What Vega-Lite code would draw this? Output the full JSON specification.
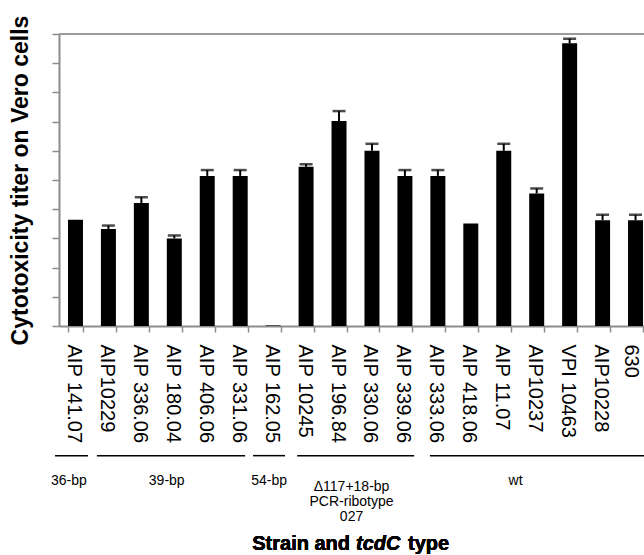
{
  "$schema": "https://vega.github.io/schema/vega-lite/v6.json",
  "width": 585,
  "height": 292,
  "autosize": {"type": "none"},
  "padding": {"left": 59, "top": 34, "right": 0, "bottom": 229},
  "background": "white",
  "config": {"view": {"stroke": null}, "font": "Liberation Sans"},
  "datasets": {
    "titers": [
      {"strain": "AIP 141.07", "titer": 3.64, "hi": 3.64},
      {"strain": "AIP10229", "titer": 3.32, "hi": 3.44},
      {"strain": "AIP 336.06", "titer": 4.21, "hi": 4.41},
      {"strain": "AIP 180.04", "titer": 3.0, "hi": 3.1},
      {"strain": "AIP 406.06", "titer": 5.14, "hi": 5.34},
      {"strain": "AIP 331.06", "titer": 5.14, "hi": 5.34},
      {"strain": "AIP 162.05", "titer": 0.02, "hi": 0.02},
      {"strain": "AIP 10245", "titer": 5.45, "hi": 5.54},
      {"strain": "AIP 196.84", "titer": 7.02, "hi": 7.36},
      {"strain": "AIP 330.06", "titer": 6.0, "hi": 6.24},
      {"strain": "AIP 339.06", "titer": 5.14, "hi": 5.34},
      {"strain": "AIP 333.06", "titer": 5.14, "hi": 5.34},
      {"strain": "AIP 418.06", "titer": 3.51, "hi": 3.51},
      {"strain": "AIP 11.07", "titer": 6.0, "hi": 6.24},
      {"strain": "AIP10237", "titer": 4.54, "hi": 4.71},
      {"strain": "VPI 10463", "titer": 9.68, "hi": 9.84},
      {"strain": "AIP10228", "titer": 3.62, "hi": 3.81},
      {"strain": "630", "titer": 3.62, "hi": 3.81}
    ],
    "groups": [
      {"label": "36-bp", "start": -0.12, "end": 0.88, "center": 0.3},
      {"label": "39-bp", "start": 1.15, "end": 5.65, "center": 3.27},
      {"label": "54-bp", "start": 5.89, "end": 6.86, "center": 6.38},
      {"label": "Δ117+18-bp\nPCR-ribotype\n027", "start": 7.23, "end": 10.78, "center": 8.88},
      {"label": "wt", "start": 11.26, "end": 18.6, "center": 13.86}
    ]
  },
  "layer": [
    {
      "data": {"name": "titers"},
      "layer": [
        {
          "mark": {"type": "bar", "color": "black"},
          "encoding": {
            "x": {
              "field": "strain", "type": "nominal", "sort": null,
              "scale": {"range": [0, 593], "paddingInner": 0.545, "paddingOuter": 0.2725},
              "axis": {
                "title": null, "labelAngle": 90, "labelFontSize": 20, "labelFont": "Liberation Sans",
                "labelColor": "black", "labelPadding": 12, "labelLimit": 300,
                "labelOffset": {"condition": {"test": "datum.value == '630'", "value": -5}, "value": -2},
                "tickSize": 6, "tickBand": "extent", "tickColor": "#8c8c8c", "tickWidth": 1.5,
                "domainColor": "#8c8c8c", "domainWidth": 2, "grid": false
              }
            },
            "y": {
              "field": "titer", "type": "quantitative",
              "scale": {"domain": [0, 10], "nice": false},
              "axis": {
                "title": "Cytotoxicity titer on Vero cells", "titleFontSize": 23,
                "titleFont": "Liberation Sans", "titleFontWeight": "bold", "titleColor": "black",
                "titlePadding": 19, "titleLimit": 500, "labels": false,
                "values": [0, 1, 2, 3, 4, 5, 6, 7, 8, 9, 10], "tickSize": 7,
                "tickColor": "#8c8c8c", "tickWidth": 1.5, "domainColor": "#8c8c8c",
                "domainWidth": 2, "grid": false
              }
            }
          }
        },
        {
          "transform": [{"filter": "datum.hi > datum.titer"}],
          "mark": {"type": "rule", "color": "black", "strokeWidth": 2},
          "encoding": {
            "x": {"field": "strain", "type": "nominal", "sort": null},
            "y": {
              "field": "titer", "type": "quantitative",
              "axis": {
                "title": "Cytotoxicity titer on Vero cells", "titleFontSize": 23,
                "titleFont": "Liberation Sans", "titleFontWeight": "bold", "titleColor": "black",
                "titlePadding": 19, "titleLimit": 500, "labels": false,
                "values": [0, 1, 2, 3, 4, 5, 6, 7, 8, 9, 10], "tickSize": 7,
                "tickColor": "#8c8c8c", "tickWidth": 1.5, "domainColor": "#8c8c8c",
                "domainWidth": 2, "grid": false
              }
            },
            "y2": {"field": "hi"}
          }
        },
        {
          "transform": [{"filter": "datum.hi > datum.titer"}],
          "mark": {"type": "tick", "color": "black", "thickness": 2.5, "size": 13},
          "encoding": {
            "x": {"field": "strain", "type": "nominal", "sort": null},
            "y": {
              "field": "hi", "type": "quantitative",
              "axis": {
                "title": "Cytotoxicity titer on Vero cells", "titleFontSize": 23,
                "titleFont": "Liberation Sans", "titleFontWeight": "bold", "titleColor": "black",
                "titlePadding": 19, "titleLimit": 500, "labels": false,
                "values": [0, 1, 2, 3, 4, 5, 6, 7, 8, 9, 10], "tickSize": 7,
                "tickColor": "#8c8c8c", "tickWidth": 1.5, "domainColor": "#8c8c8c",
                "domainWidth": 2, "grid": false
              }
            }
          }
        }
      ]
    },
    {
      "data": {"name": "groups"},
      "layer": [
        {
          "mark": {"type": "rule", "color": "#9a9a9a", "strokeWidth": 2},
          "encoding": {"y": {"datum": 10, "axis": null}}
        },
        {
          "mark": {"type": "rule", "color": "black", "strokeWidth": 1.5},
          "encoding": {
            "x": {"field": "start", "type": "quantitative", "scale": {"domain": [0, 18], "range": [0, 593], "nice": false, "zero": false}, "axis": null},
            "x2": {"field": "end"},
            "y": {"datum": -4.44, "axis": null}
          }
        },
        {
          "transform": [{"filter": {"field": "label", "oneOf": ["36-bp", "39-bp", "54-bp", "wt"]}}],
          "mark": {"type": "text", "fontSize": 14, "color": "black", "align": "center", "baseline": "middle"},
          "encoding": {
            "x": {"field": "center", "type": "quantitative"},
            "y": {"datum": -5.3, "axis": null},
            "text": {"field": "label", "type": "nominal"}
          }
        },
        {
          "transform": [{"filter": {"not": {"field": "label", "oneOf": ["36-bp", "39-bp", "54-bp", "wt"]}}}],
          "mark": {"type": "text", "fontSize": 14, "color": "black", "align": "center", "baseline": "middle", "lineBreak": "\n", "lineHeight": 15},
          "encoding": {
            "x": {"field": "center", "type": "quantitative"},
            "y": {"datum": -5.53, "axis": null},
            "text": {"field": "label", "type": "nominal"}
          }
        },
        {
          "mark": {"type": "text", "text": "Strain and", "fontSize": 20, "fontWeight": "bold", "color": "black", "align": "right", "baseline": "alphabetic", "dx": -6},
          "encoding": {"x": {"datum": 9.016}, "y": {"datum": -7.67, "axis": null}}
        },
        {
          "mark": {"type": "text", "text": "tcdC", "fontSize": 20, "fontWeight": "bold", "fontStyle": "italic", "color": "black", "align": "left", "baseline": "alphabetic"},
          "encoding": {"x": {"datum": 9.016}, "y": {"datum": -7.67, "axis": null}}
        },
        {
          "mark": {"type": "text", "text": "type", "fontSize": 20, "fontWeight": "bold", "color": "black", "align": "left", "baseline": "alphabetic", "dx": 52},
          "encoding": {"x": {"datum": 9.016}, "y": {"datum": -7.67, "axis": null}}
        }
      ]
    }
  ],
  "resolve": {"scale": {"x": "independent"}, "axis": {"x": "independent", "y": "independent"}}
}
